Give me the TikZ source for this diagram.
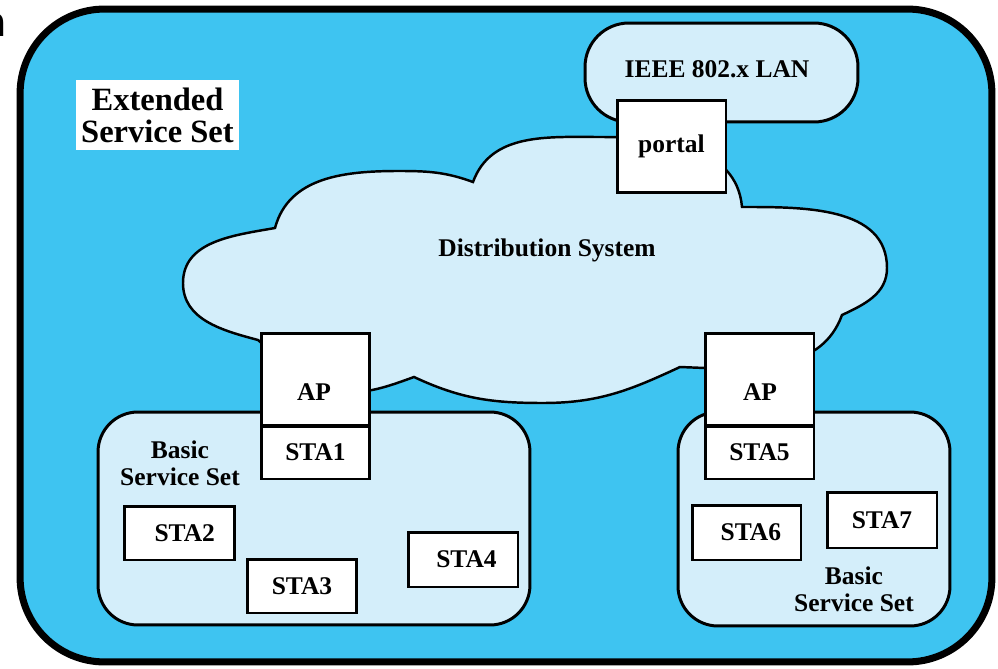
\documentclass[tikz,border=0pt]{standalone}
\usepackage{fontspec}
\setmainfont{Liberation Serif}
\setsansfont{DejaVu Sans}
\definecolor{essblue}{HTML}{3EC4F1}
\definecolor{lightblue}{HTML}{D4EEFA}
\begin{document}
\begin{tikzpicture}[x=0.02cm,y=0.02cm,
  boxfont/.style={font=\bfseries\fontsize{14.5}{16}\selectfont},
  stabox/.style={draw=black, fill=white, line width=1.7pt, inner sep=0pt, boxfont},
  areabox/.style={draw=black, fill=lightblue, line width=1.7pt, inner sep=0pt},
  lbl/.style={inner sep=0pt, boxfont, align=center},
]
\useasboundingbox (0,0) rectangle (998,-669);
\fill[white] (0,0) rectangle (998,-669);

% outer extended service set
\node[draw=black, line width=4pt, fill=essblue, rounded corners=48pt,
      minimum width=19.44cm, minimum height=13.06cm, inner sep=0pt] (ess) at (506,-335.5) {};
\node[font=\sffamily\fontsize{23}{23}\selectfont, anchor=base east, inner sep=0pt] (frag) at (7,-37) {n};

% label
\node[fill=white, minimum width=3.26cm, minimum height=1.4cm, inner sep=0pt,
      align=center, font=\bfseries\fontsize{18.5}{18.2}\selectfont] (esslbl) at (157.5,-115)
      {Extended\\Service Set};

% IEEE LAN
\node[areabox, rounded corners=25pt, minimum width=5.46cm, minimum height=1.98cm] (lan) at (721.5,-72.5) {};
\node[lbl] (lantxt) at (717,-69) {IEEE 802.x LAN};

% cloud
\draw[line width=1.4pt, fill=lightblue]
  (275,-228) to[out=75,in=180] (399,-171) to[out=0,in=160] (473,-182)
  to[out=70,in=180] (600,-137) to[out=0,in=95] (742,-207)
  to[out=0,in=90] (887,-268) to[out=-90,in=25] (842,-315)
  to[out=-110,in=0] (705,-368) -- (680,-367)
  to[out=-155,in=0] (543,-403) to[out=180,in=-25] (414,-377)
  to[out=-160,in=0] (340,-393) to[out=180,in=-40] (258,-340)
  to[out=165,in=-90] (183,-283) to[out=90,in=190] (275,-228) -- cycle;
\node[lbl] (ds) at (547,-250) {Distribution System};

% basic service sets
\node[areabox, rounded corners=22.7pt, minimum width=8.64cm, minimum height=4.26cm] (bssl) at (314,-518.5) {};
\node[areabox, rounded corners=22.7pt, minimum width=5.44cm, minimum height=4.28cm] (bssr) at (814,-519) {};
\node[lbl, font=\bfseries\fontsize{14.5}{15.4}\selectfont] (bssltxt) at (180,-463) {Basic\\Service Set};
\node[lbl, font=\bfseries\fontsize{14.5}{15.4}\selectfont] (bssrtxt) at (854,-589) {Basic\\Service Set};

% portal
\node[stabox, minimum width=2.18cm, minimum height=1.86cm] (portal) at (671.5,-146.5) {portal};

% access points
\node[stabox, minimum width=2.18cm, minimum height=1.86cm] (apl) at (315.5,-379.5) {};
\node[lbl] (apltxt) at (314,-392) {AP};
\node[stabox, minimum width=2.18cm, minimum height=1.06cm] (sta1) at (315.5,-452.5) {STA1};
\node[stabox, minimum width=2.18cm, minimum height=1.86cm] (apr) at (759.5,-379.5) {};
\node[lbl] (aprtxt) at (760,-392) {AP};
\node[stabox, minimum width=2.18cm, minimum height=1.06cm] (sta5) at (759.5,-452.5) {STA5};

% stations
\node[stabox, minimum width=2.22cm, minimum height=1.08cm] (sta2) at (179.5,-533) {\hspace{6pt}STA2};
\node[stabox, minimum width=2.20cm, minimum height=1.08cm] (sta3) at (302,-586) {STA3};
\node[stabox, minimum width=2.20cm, minimum height=1.10cm] (sta4) at (463,-559.5) {\hspace{4pt}STA4};
\node[stabox, minimum width=2.18cm, minimum height=1.10cm] (sta6) at (746.5,-532.5) {\hspace{5pt}STA6};
\node[stabox, minimum width=2.20cm, minimum height=1.12cm] (sta7) at (882,-520) {STA7};
\end{tikzpicture}
\end{document}
